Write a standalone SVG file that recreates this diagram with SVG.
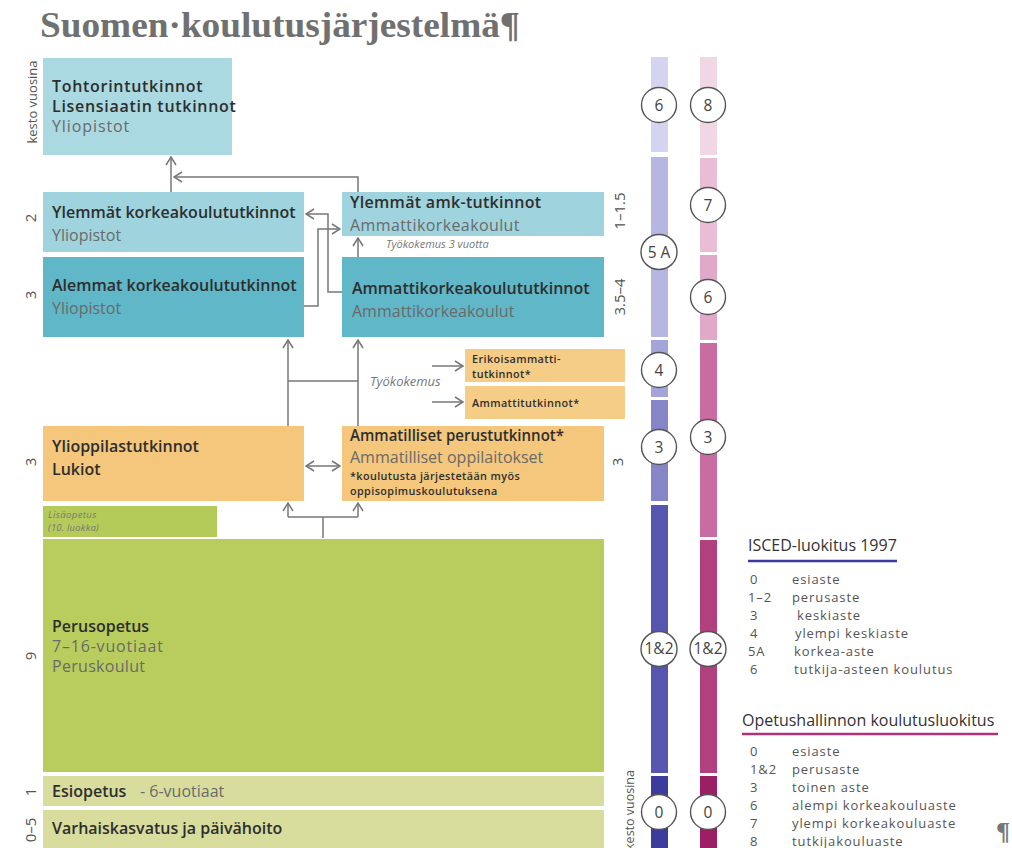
<svg xmlns="http://www.w3.org/2000/svg" width="1012" height="848" viewBox="0 0 1012 848">
<defs>
<marker id="arr" viewBox="0 0 10 12" refX="9" refY="6" markerWidth="10" markerHeight="12" markerUnits="userSpaceOnUse" orient="auto-start-reverse">
<path d="M1,1 L9,6 L1,11" fill="none" stroke="#777" stroke-width="1.5"/>
</marker>
<style>
.t{font-family:"Open Sans","Noto Sans",sans-serif;}
.b{font-weight:600;fill:#2e2e2e;font-size:16px;}
.g{font-weight:400;fill:#6a6a6a;font-size:16px;}
.s{font-weight:600;fill:#2e2e2e;font-size:10.8px;letter-spacing:0.4px;}
.i{font-style:italic;fill:#777;}
.n{font-size:15px;fill:#555;}
.c{fill:none;stroke:#777;stroke-width:1.5;}
.ci{fill:#fff;stroke:#555;stroke-width:1.4;}
.cn{font-family:"Open Sans","Noto Sans",sans-serif;font-size:15.5px;fill:#444;text-anchor:middle;}
.lg{font-family:"Open Sans","Noto Sans",sans-serif;font-size:13px;letter-spacing:0.9px;fill:#555;}
.lh{font-family:"Open Sans","Noto Sans",sans-serif;font-size:16px;fill:#333;}
</style>
</defs>
<rect width="1012" height="848" fill="#fff"/>
<text x="40" y="37" font-family="Liberation Serif,serif" font-weight="700" font-size="36" fill="#707070" textLength="480" lengthAdjust="spacingAndGlyphs">Suomen·koulutusjärjestelmä¶</text>

<g id="side-labels" class="t n">
<text transform="translate(37,102) rotate(-90)" text-anchor="middle" font-size="13">kesto vuosina</text>
<text transform="translate(36,218) rotate(-90)" text-anchor="middle">2</text>
<text transform="translate(36,295) rotate(-90)" text-anchor="middle">3</text>
<text transform="translate(36,462) rotate(-90)" text-anchor="middle">3</text>
<text transform="translate(36,656) rotate(-90)" text-anchor="middle">9</text>
<text transform="translate(36,792) rotate(-90)" text-anchor="middle">1</text>
<text transform="translate(36,830) rotate(-90)" text-anchor="middle">0–5</text>
<text transform="translate(625,211) rotate(-90)" text-anchor="middle">1–1.5</text>
<text transform="translate(625,297) rotate(-90)" text-anchor="middle">3.5–4</text>
<text transform="translate(623,462) rotate(-90)" text-anchor="middle">3</text>
<text transform="translate(634,810) rotate(-90)" text-anchor="middle" font-size="12.5">kesto vuosina</text>
</g>

<g id="tohtori">
<rect x="43" y="58" width="189" height="97" fill="#aad9e1"/>
<text class="t b" x="52" y="92" font-size="14.5" letter-spacing="0.7">Tohtorintutkinnot</text>
<text class="t b" x="52" y="112" font-size="14.5" letter-spacing="0.7">Lisensiaatin tutkinnot</text>
<text class="t g" x="52" y="132" font-size="14.5" letter-spacing="0.9">Yliopistot</text>
</g>
<g id="ylemmat-kk">
<rect x="43" y="192" width="261" height="60" fill="#9fd4de"/>
<text class="t b" x="52" y="218">Ylemmät korkeakoulututkinnot</text>
<text class="t g" x="52" y="241" font-size="16.5">Yliopistot</text>
</g>
<g id="ylemmat-amk">
<rect x="342" y="192" width="262" height="44" fill="#9fd4de"/>
<text class="t b" x="350" y="208" font-size="15.5" letter-spacing="0.3">Ylemmät amk-tutkinnot</text>
<text class="t g" x="350" y="231" letter-spacing="0.4">Ammattikorkeakoulut</text>
</g>
<text class="t i" x="386" y="248" font-size="11">Työkokemus 3 vuotta</text>
<g id="alemmat-kk">
<rect x="43" y="257" width="261" height="80" fill="#5fb7c7"/>
<text class="t b" x="52" y="291">Alemmat korkeakoulututkinnot</text>
<text class="t g" x="52" y="314" font-size="16.5" fill="#4d6d75">Yliopistot</text>
</g>
<g id="amk">
<rect x="342" y="257" width="262" height="80" fill="#5fb7c7"/>
<text class="t b" x="352" y="294">Ammattikorkeakoulututkinnot</text>
<text class="t g" x="352" y="317" font-size="16.5" fill="#4d6d75">Ammattikorkeakoulut</text>
</g>
<text class="t i" x="370" y="386" font-size="13">Työkokemus</text>
<g id="erikois">
<rect x="465" y="349" width="160" height="33" fill="#f6cd86"/>
<text class="t s" x="472" y="363">Erikoisammatti-</text>
<text class="t s" x="472" y="378">tutkinnot*</text>
</g>
<g id="ammattitutkinnot">
<rect x="465" y="386" width="160" height="33" fill="#f6cd86"/>
<text class="t s" x="472" y="407" font-size="12.5" letter-spacing="0">Ammattitutkinnot*</text>
</g>
<g id="ylioppilas">
<rect x="43" y="426" width="261" height="75" fill="#f4c77c"/>
<text class="t b" x="52" y="452">Ylioppilastutkinnot</text>
<text class="t b" x="52" y="475">Lukiot</text>
</g>
<g id="ammatilliset">
<rect x="342" y="426" width="262" height="75" fill="#f4c77c"/>
<text class="t b" x="350" y="441" font-size="14.5" textLength="214" lengthAdjust="spacingAndGlyphs">Ammatilliset perustutkinnot*</text>
<text class="t g" x="350" y="463">Ammatilliset oppilaitokset</text>
<text class="t s" x="350" y="480">*koulutusta järjestetään myös</text>
<text class="t s" x="350" y="495">oppisopimuskoulutuksena</text>
</g>
<g id="lisaopetus">
<rect x="43" y="506" width="174" height="31" fill="#b4cb59"/>
<text class="t i" x="48" y="518" font-size="9.5" letter-spacing="0.4" fill="#5e6e2a">Lisäopetus</text>
<text class="t i" x="48" y="531" font-size="9.5" letter-spacing="0.2" fill="#5e6e2a">(10. luokka)</text>
</g>
<g id="perusopetus">
<rect x="43" y="539" width="561" height="233" fill="#b8cd5e"/>
<text class="t b" x="52" y="632" font-size="13.8">Perusopetus</text>
<text class="t g" x="52" y="652" font-size="13.8" letter-spacing="0.8" fill="#555">7–16-vuotiaat</text>
<text class="t g" x="52" y="672" font-size="13.8" letter-spacing="0.3" fill="#555">Peruskoulut</text>
</g>
<g id="esiopetus">
<rect x="43" y="776" width="561" height="30" fill="#d8dd9d"/>
<text class="t b" x="52" y="797" font-size="14.5">Esiopetus</text>
<text class="t g" x="140" y="797" font-size="14.5" fill="#777">- 6-vuotiaat</text>
</g>
<g id="varhaiskasvatus">
<rect x="43" y="810" width="561" height="38" fill="#d8dd9d"/>
<text class="t b" x="52" y="834" font-size="15.5">Varhaiskasvatus ja päivähoito</text>
</g>

<g id="connectors">
<path class="c" d="M171,192 V157" marker-end="url(#arr)"/>
<path class="c" d="M358,192 V177 H174" marker-end="url(#arr)"/>
<path class="c" d="M342,292 H328 V214 H306" marker-end="url(#arr)"/>
<path class="c" d="M304,306 H318 V229 H340" marker-end="url(#arr)"/>
<path class="c" d="M358,257 V238" marker-end="url(#arr)"/>
<path class="c" d="M288,426 V340" marker-end="url(#arr)"/>
<path class="c" d="M358,426 V340" marker-end="url(#arr)"/>
<path class="c" d="M288,381 H358"/>
<path class="c" d="M432,366 H463" marker-end="url(#arr)"/>
<path class="c" d="M432,402 H463" marker-end="url(#arr)"/>
<path class="c" d="M306,466 H340" marker-start="url(#arr)" marker-end="url(#arr)"/>
<path class="c" d="M323,538 V517"/>
<path class="c" d="M288,517 H358"/>
<path class="c" d="M288,517 V503" marker-end="url(#arr)"/>
<path class="c" d="M358,517 V503" marker-end="url(#arr)"/>
</g>

<g id="isced-bar">
<rect x="651" y="57" width="17" height="95" fill="#d4d4f0"/>
<rect x="651" y="157" width="17" height="180" fill="#b6b6e2"/>
<rect x="651" y="340" width="17" height="57" fill="#a4a4d8"/>
<rect x="651" y="400" width="17" height="101" fill="#8585c8"/>
<rect x="651" y="505" width="17" height="268" fill="#5656b0"/>
<rect x="651" y="776" width="17" height="72" fill="#3c3c9c"/>
<circle class="ci" cx="659" cy="105" r="17.5"/><text class="cn" x="659" y="110.5">6</text>
<ellipse class="ci" cx="659" cy="252" rx="18" ry="17.5"/><text class="cn" x="659" y="257.5">5 A</text>
<circle class="ci" cx="659" cy="370" r="17.5"/><text class="cn" x="659" y="375.5">4</text>
<circle class="ci" cx="659" cy="447" r="17.5"/><text class="cn" x="659" y="452.5">3</text>
<ellipse class="ci" cx="659" cy="649" rx="18" ry="17.5"/><text class="cn" x="659" y="654" font-size="14">1&amp;2</text>
<circle class="ci" cx="659" cy="812" r="17.5"/><text class="cn" x="659" y="817.5">0</text>
</g>
<g id="opetus-bar">
<rect x="700" y="57" width="17" height="98" fill="#f1d6e6"/>
<rect x="700" y="158" width="17" height="94" fill="#e9bdd6"/>
<rect x="700" y="255" width="17" height="85" fill="#e0a9c9"/>
<rect x="700" y="343" width="17" height="194" fill="#c86ca2"/>
<rect x="700" y="540" width="17" height="233" fill="#b0407e"/>
<rect x="700" y="776" width="17" height="72" fill="#9c1f66"/>
<circle class="ci" cx="708" cy="105" r="17.5"/><text class="cn" x="708" y="110.5">8</text>
<circle class="ci" cx="708" cy="205" r="17.5"/><text class="cn" x="708" y="210.5">7</text>
<circle class="ci" cx="708" cy="297" r="17.5"/><text class="cn" x="708" y="302.5">6</text>
<circle class="ci" cx="708" cy="437" r="17.5"/><text class="cn" x="708" y="442.5">3</text>
<ellipse class="ci" cx="708" cy="649" rx="18" ry="17.5"/><text class="cn" x="708" y="654" font-size="14">1&amp;2</text>
<circle class="ci" cx="708" cy="812" r="17.5"/><text class="cn" x="708" y="817.5">0</text>
</g>

<g id="legend-isced">
<text class="lh" x="748" y="551">ISCED-luokitus 1997</text>
<line x1="748" y1="561" x2="897" y2="561" stroke="#3a3a9a" stroke-width="2.5"/>
<text class="lg" x="750" y="584">0</text><text class="lg" x="792" y="584">esiaste</text>
<text class="lg" x="748" y="602">1–2</text><text class="lg" x="792" y="602">perusaste</text>
<text class="lg" x="750" y="620">3</text><text class="lg" x="797" y="620">keskiaste</text>
<text class="lg" x="750" y="638">4</text><text class="lg" x="795" y="638">ylempi keskiaste</text>
<text class="lg" x="748" y="656">5A</text><text class="lg" x="794" y="656">korkea-aste</text>
<text class="lg" x="750" y="674">6</text><text class="lg" x="794" y="674">tutkija-asteen koulutus</text>
</g>
<g id="legend-opetus">
<text class="lh" x="742" y="726">Opetushallinnon koulutusluokitus</text>
<line x1="742" y1="734" x2="998" y2="734" stroke="#b0307a" stroke-width="2.5"/>
<text class="lg" x="750" y="756">0</text><text class="lg" x="792" y="756">esiaste</text>
<text class="lg" x="750" y="774">1&amp;2</text><text class="lg" x="792" y="774">perusaste</text>
<text class="lg" x="750" y="792">3</text><text class="lg" x="792" y="792">toinen aste</text>
<text class="lg" x="750" y="810">6</text><text class="lg" x="792" y="810">alempi korkeakouluaste</text>
<text class="lg" x="750" y="828">7</text><text class="lg" x="792" y="828">ylempi korkeakouluaste</text>
<text class="lg" x="750" y="846">8</text><text class="lg" x="792" y="846">tutkijakouluaste</text>
</g>
<text x="996" y="840" font-family="Liberation Serif,serif" font-weight="700" font-size="26" fill="#777">¶</text>
</svg>
